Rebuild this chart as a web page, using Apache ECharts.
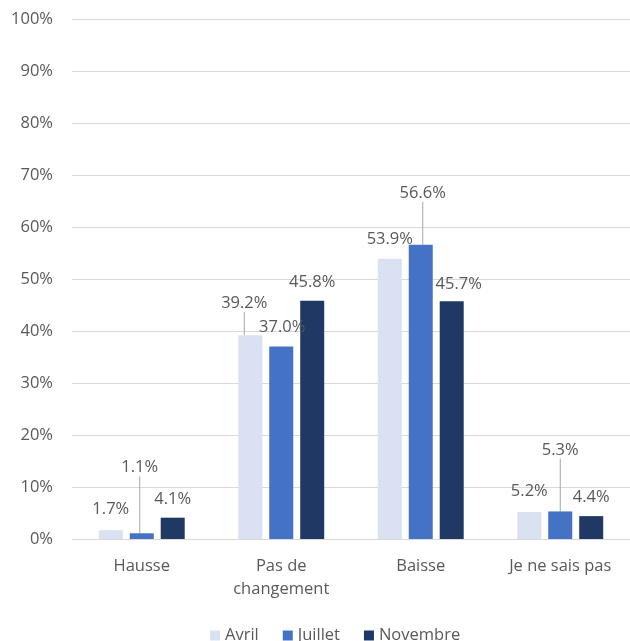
<!DOCTYPE html>
<html>
<head>
<meta charset="utf-8">
<script src="https://cdn.jsdelivr.net/npm/echarts@6/dist/echarts.min.js"></script>
<style>html,body{margin:0;padding:0;background:#fff;}#c{width:630px;height:641px;}</style>
</head>
<body>
<div id="c"></div>
<script>
const categories = ['Hausse', 'Pas de\nchangement', 'Baisse', 'Je ne sais pas'];
const seriesNames = ['Avril', 'Juillet', 'Novembre'];
const avril = [1.7, 39.2, 53.9, 5.2];
const juillet = [1.1, 37.0, 56.6, 5.3];
const novembre = [4.1, 45.8, 45.7, 4.4];
const colors = ['#D9E1F2', '#4472C4', '#203864'];
// label offsets [dx, dy] per series / category (Excel-like moved labels)
const labelOffsets = [
  [[0, -2], [-6, -13], [0, -1], [0, -2]],
  [[-2, -47], [1, -1], [2, -33], [0, -43]],
  [[0, 0], [0, 0], [7, 1], [0, 0]]
];
const leaderLines = [
  [false, true, false, false],
  [true, false, true, true],
  [false, false, false, false]
];
const yTicks = [0, 10, 20, 30, 40, 50, 60, 70, 80, 90, 100];

const FONT = 'Open Sans';
const TXT = '#595959';
const allValues = [avril, juillet, novembre];

const series = allValues.map((vals, si) => ({
  name: seriesNames[si],
  type: 'bar',
  barWidth: 24,
  barGap: '29%',
  itemStyle: { color: colors[si] },
  data: vals.map((v, ci) => ({
    value: v,
    labelLine: { show: leaderLines[si][ci] }
  })),
  label: {
    show: true,
    position: 'top',
    distance: 10,
    color: TXT,
    fontFamily: FONT,
    fontSize: 16.5,
    formatter: p => p.value.toFixed(1) + '%'
  },
  labelLine: { show: false, lineStyle: { color: '#a6a6a6', width: 1 } },
  labelLayout: p => ({ dx: labelOffsets[si][p.dataIndex][0], dy: labelOffsets[si][p.dataIndex][1] })
}));

const chart = echarts.init(document.getElementById('c'), null, { renderer: 'canvas' });
chart.setOption({
  animation: false,
  backgroundColor: '#fff',
  color: colors,
  grid: { left: 72, top: 19, width: 562, height: 520, containLabel: false },
  legend: {
    top: 622,
    left: 205,
    itemWidth: 10,
    itemHeight: 10,
    itemGap: 24,
    icon: 'rect',
    textStyle: { color: TXT, fontFamily: FONT, fontSize: 16.5, padding: [0, 0, 0, 0] },
    data: seriesNames
  },
  xAxis: {
    type: 'category',
    data: categories,
    axisLine: { lineStyle: { color: '#d9d9d9', width: 1 } },
    axisTick: { show: false },
    axisLabel: { color: TXT, fontFamily: FONT, fontSize: 16.5, margin: 16, lineHeight: 23, interval: 0 }
  },
  yAxis: {
    type: 'value',
    min: yTicks[0],
    max: yTicks[yTicks.length - 1],
    interval: yTicks[1] - yTicks[0],
    axisLine: { show: false },
    axisTick: { show: false },
    splitLine: { lineStyle: { color: '#d9d9d9', width: 1 } },
    axisLabel: { color: TXT, fontFamily: FONT, fontSize: 16.5, margin: 19, formatter: v => v + '%' }
  },
  series: series
});
</script>
</body>
</html>
